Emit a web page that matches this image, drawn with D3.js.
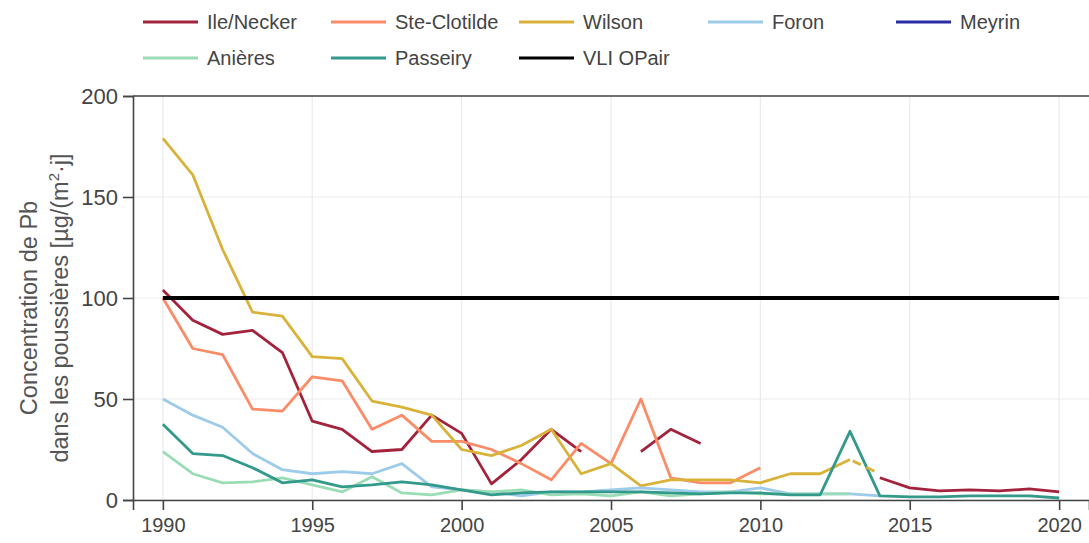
<!DOCTYPE html>
<html>
<head>
<meta charset="utf-8">
<script src="https://cdn.jsdelivr.net/npm/d3@7"></script>
<style>
  body { margin: 0; background: #fff; }
  svg { display: block; font-family: "Liberation Sans", Arial, sans-serif; }
</style>
</head>
<body>
<svg class="chart"></svg>
<script>
// Years of the measurement campaign
const years = [1990, 1991, 1992, 1993, 1994, 1995, 1996, 1997, 1998, 1999,
  2000, 2001, 2002, 2003, 2004, 2005, 2006, 2007, 2008, 2009,
  2010, 2011, 2012, 2013, 2014, 2015, 2016, 2017, 2018, 2019, 2020];

// Pb deposition per station, µg/(m²·j) (null = no measurement)
const ileNecker = [104, 89, 82, 84, 73, 39, 35, 24, 25, 42,
  33, 8, 20, 35, 24, null, 24, 35, 28, null,
  null, null, null, null, 11, 6, 4.5, 5, 4.5, 5.5, 4];
const steClotilde = [100, 75, 72, 45, 44, 61, 59, 35, 42, 29,
  29, 25, 18, 10, 28, 18, 50, 11, 8.5, 8.5,
  16, null, null, null, null, null, null, null, null, null, null];
const wilson = [179, 161, 124, 93, 91, 71, 70, 49, 46, 42,
  25, 22, 27, 35, 13, 18, 7, 10, 10, 10,
  8.5, 13, 13, 20, null, null, null, null, null, null, null];
const foron = [50, 42, 36, 23, 15, 13, 14, 13, 18, 6.5,
  5, 4, 2, 4, 4, 5, 6, 5, 4, 4,
  6, 3, 3, 3, 2, null, null, null, null, null, null];
const meyrin = [];
const anieres = [24, 13, 8.5, 9, 11, 7.5, 4, 11.5, 3.5, 2.5,
  5, 4, 5, 2.5, 3, 2, 4, 2, 3, 4,
  3, 3, 3, 3, null, null, null, null, null, null, null];
const passeiry = [37.5, 23, 22, 16, 8.5, 10, 6.5, 7.5, 9, 7.5,
  5, 2.5, 3.5, 4, 4, 4, 4, 3.5, 3, 3.5,
  3.5, 2.5, 2.5, 34, 2, 1.5, 1.5, 2, 2, 2, 1];

// Wilson: broken link between the last two readings
const wilsonGapYears = [2013, 2014];
const wilsonGapValues = [20, 13];

// Limit value (VLI OPair)
const vliYears = [1990, 2020];
const vliValues = [100, 100];

const xTicks = [1990, 1995, 2000, 2005, 2010, 2015, 2020];
const yTicks = [0, 50, 100, 150, 200];

const stations = [
  { name: "Ile/Necker", color: "#a3223c", values: ileNecker },
  { name: "Ste-Clotilde", color: "#fb8c68", values: steClotilde },
  { name: "Wilson", color: "#d9b23a", values: wilson },
  { name: "Foron", color: "#9dcbea", values: foron },
  { name: "Meyrin", color: "#2b2ba3", values: meyrin },
  { name: "Anières", color: "#9adcb6", values: anieres },
  { name: "Passeiry", color: "#33998a", values: passeiry },
  { name: "VLI OPair", color: "#000000", values: [] }
];

function createChart() {
  const width = 1089;
  const height = 543;
  const marginTop = 96;
  const marginRight = 0;
  const marginBottom = 43;
  const marginLeft = 133;

  const x = d3.scaleLinear()
    .domain([1989, 2021])
    .range([marginLeft, width - marginRight]);

  const y = d3.scaleLinear()
    .domain([0, 200])
    .range([height - marginBottom, marginTop]);

  const svg = d3.select("svg.chart")
    .attr("width", width)
    .attr("height", height)
    .attr("viewBox", `0 0 ${width} ${height}`);

  // Grid
  const grid = svg.append("g")
    .attr("stroke", "#ebebeb")
    .attr("stroke-width", 1.2);
  grid.selectAll("line.gx")
    .data(xTicks)
    .join("line")
    .attr("class", "gx")
    .attr("x1", d => x(d)).attr("x2", d => x(d))
    .attr("y1", y(200)).attr("y2", y(0));
  grid.selectAll("line.gy")
    .data(yTicks)
    .join("line")
    .attr("class", "gy")
    .attr("x1", marginLeft).attr("x2", width - marginRight)
    .attr("y1", d => y(d)).attr("y2", d => y(d));

  // Station lines
  const line = d3.line()
    .defined(d => d[1] != null)
    .x(d => x(d[0]))
    .y(d => y(d[1]));

  svg.append("g")
    .attr("fill", "none")
    .attr("stroke-width", 2.8)
    .attr("stroke-linejoin", "round")
    .selectAll("path")
    .data(stations.filter(s => s.values.length))
    .join("path")
    .attr("stroke", d => d.color)
    .attr("d", d => line(years.map((yr, i) => [yr, d.values[i]])));

  svg.append("path")
    .attr("fill", "none")
    .attr("stroke", stations[2].color)
    .attr("stroke-width", 2.8)
    .attr("stroke-dasharray", "9,6")
    .attr("stroke-dashoffset", -3)
    .attr("d", line(wilsonGapYears.map((yr, i) => [yr, wilsonGapValues[i]])));

  svg.append("path")
    .attr("fill", "none")
    .attr("stroke", "#000")
    .attr("stroke-width", 3.8)
    .attr("d", line(vliYears.map((yr, i) => [yr, vliValues[i]])));

  // Axes
  const axisColor = "#444";
  svg.append("g")
    .attr("transform", `translate(0,${height - marginBottom})`)
    .call(d3.axisBottom(x).tickValues(xTicks).tickFormat(d3.format("d")).tickSize(10).tickPadding(8))
    .call(g => g.select(".domain").attr("stroke", axisColor).attr("stroke-width", 1.6))
    .call(g => g.selectAll(".tick line").attr("stroke", axisColor).attr("stroke-width", 1.6))
    .call(g => g.selectAll(".tick text").attr("fill", "#444").attr("font-size", 20).attr("font-family", null));

  svg.append("g")
    .attr("transform", `translate(${marginLeft},0)`)
    .call(d3.axisLeft(y).tickValues(yTicks).tickSize(10).tickPadding(5))
    .call(g => g.select(".domain").attr("stroke", axisColor).attr("stroke-width", 1.6))
    .call(g => g.selectAll(".tick line").attr("stroke", axisColor).attr("stroke-width", 1.6))
    .call(g => g.selectAll(".tick text").attr("fill", "#444").attr("font-size", 22).attr("font-family", null));

  // Top frame
  svg.append("line")
    .attr("x1", marginLeft).attr("x2", width)
    .attr("y1", marginTop).attr("y2", marginTop)
    .attr("stroke", axisColor)
    .attr("stroke-width", 1.6);

  // Y title
  const yMid = 308;
  const title = svg.append("text")
    .attr("transform", `translate(0,${yMid}) rotate(-90)`)
    .attr("text-anchor", "middle")
    .attr("fill", "#555")
    .attr("font-size", 23.5);
  title.append("tspan").attr("x", 0).attr("y", 37).text("Concentration de Pb");
  const l2 = title.append("tspan").attr("x", 0).attr("y", 68);
  l2.append("tspan").text("dans les poussières [µg/(m");
  l2.append("tspan").attr("font-size", 15).attr("dy", -9).text("2");
  l2.append("tspan").attr("dy", 9).text("·j]");

  // Legend
  const legendX = [143, 331, 519, 708, 896];
  const legendY = [22, 58];
  const legend = svg.append("g")
    .selectAll("g")
    .data(stations)
    .join("g")
    .attr("transform", (d, i) => `translate(${legendX[i % 5]},${legendY[Math.floor(i / 5)]})`);
  legend.append("line")
    .attr("x1", 0).attr("x2", 55)
    .attr("stroke", d => d.color)
    .attr("stroke-width", 3.2);
  legend.append("text")
    .attr("x", 64)
    .attr("dy", "0.35em")
    .attr("fill", "#444")
    .attr("font-size", 20)
    .text(d => d.name);
}

createChart();
</script>
</body>
</html>
